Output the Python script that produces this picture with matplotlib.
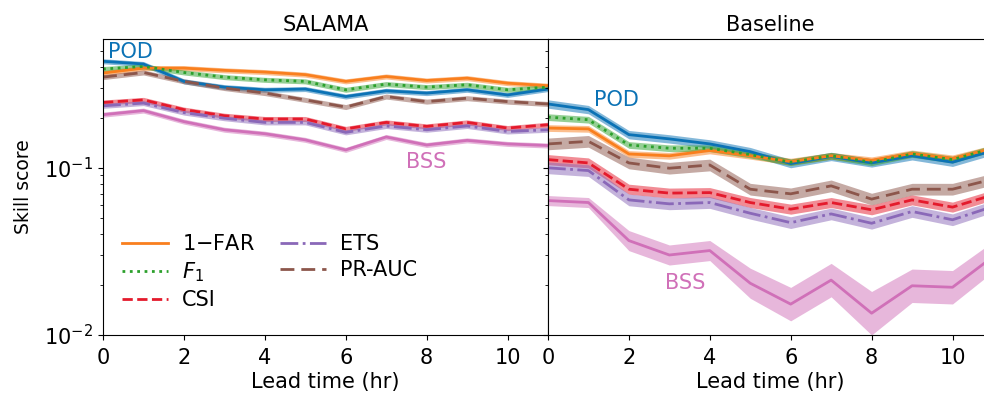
import numpy as np
import matplotlib
matplotlib.use('Agg')
from matplotlib import pyplot as plt

lead = [0, 1, 2, 3, 4, 5, 6, 7, 8, 9, 10, 11]

## SALAMA scores
sal_pod = [0.434, 0.418, 0.329, 0.304, 0.293, 0.296, 0.267, 0.289, 0.280, 0.293, 0.273, 0.296]
sal_far = [0.369, 0.395, 0.395, 0.383, 0.374, 0.361, 0.329, 0.352, 0.333, 0.344, 0.321, 0.310]
sal_f1 = [0.390, 0.404, 0.372, 0.349, 0.336, 0.329, 0.293, 0.317, 0.304, 0.314, 0.293, 0.304]
sal_csi = [0.246, 0.255, 0.223, 0.205, 0.196, 0.196, 0.171, 0.187, 0.177, 0.187, 0.173, 0.181]
sal_ets = [0.235, 0.244, 0.214, 0.198, 0.187, 0.187, 0.163, 0.178, 0.169, 0.178, 0.165, 0.169]
sal_prauc = [0.349, 0.372, 0.329, 0.300, 0.280, 0.255, 0.231, 0.267, 0.249, 0.261, 0.249, 0.241]
sal_bss = [0.208, 0.220, 0.189, 0.169, 0.160, 0.147, 0.128, 0.153, 0.137, 0.146, 0.139, 0.136]

## Baseline scores
base_pod = [0.241, 0.223, 0.158, 0.149, 0.139, 0.125, 0.106, 0.117, 0.107, 0.118, 0.108, 0.127]
base_far = [0.173, 0.171, 0.121, 0.118, 0.127, 0.118, 0.109, 0.118, 0.111, 0.122, 0.114, 0.131]
base_f1 = [0.201, 0.194, 0.137, 0.131, 0.131, 0.120, 0.108, 0.118, 0.108, 0.121, 0.112, 0.131]
base_csi = [0.112, 0.107, 0.0745, 0.0706, 0.0711, 0.062, 0.0566, 0.062, 0.0561, 0.0643, 0.0582, 0.0689]
base_ets = [0.100, 0.0963, 0.0643, 0.0609, 0.062, 0.0535, 0.047, 0.053, 0.0466, 0.0548, 0.0489, 0.0587]
base_prauc = [0.139, 0.144, 0.107, 0.0995, 0.104, 0.0745, 0.0699, 0.078, 0.065, 0.0745, 0.0745, 0.0856]
base_bss = [0.0637, 0.062, 0.0367, 0.0301, 0.032, 0.0204, 0.0153, 0.0213, 0.0135, 0.0197, 0.0193, 0.0294]

## half-width of the shaded bands (log10 units)
sal_spread = [0.015, 0.015, 0.015, 0.015, 0.015, 0.015, 0.015]
base_spread = [0.025, 0.02, 0.02, 0.03, 0.035, 0.035]
base_bss_spread = [0.03, 0.03, 0.06, 0.06, 0.06, 0.09, 0.1, 0.1, 0.13, 0.1, 0.1, 0.09]

names = ['POD', r'1$-$FAR', r'$F_1$', 'CSI', 'ETS', 'PR-AUC', 'BSS']
colors = ['#0b72b5', '#f97f1e', '#2ca02c', '#e41a2c', '#8a68b8', '#8c564b', '#d070b8']
styles = ['-', '-', ':', '--', '-.', (0, (5, 2.5)), '-']

sal = [sal_pod, sal_far, sal_f1, sal_csi, sal_ets, sal_prauc, sal_bss]
base = [base_pod, base_far, base_f1, base_csi, base_ets, base_prauc, base_bss]

plt.rcParams['font.size'] = 15
fig = plt.figure(figsize=(9.84, 3.93), dpi=100)
ax1 = fig.add_axes([0.1047, 0.1476, 0.4522, 0.7532])
ax2 = fig.add_axes([0.5569, 0.1476, 0.4522, 0.7532], sharey=ax1)

x = np.array(lead)

def draw(ax, data, spreads):
    for i, vals in enumerate(data):
        v = np.array(vals)
        s = np.array(spreads[i])
        ax.fill_between(x, v * 10**(-s), v * 10**s, color=colors[i], alpha=0.5, lw=0)
        lbl = names[i] if i not in (0, 6) else None
        ax.plot(x, v, color=colors[i], ls=styles[i], lw=2, label=lbl)

draw(ax1, sal, sal_spread)
draw(ax2, base, base_spread + [base_bss_spread])

ax1.set_yscale('log')
ax1.set_ylim(0.01, 0.59)
for ax in (ax1, ax2):
    ax.set_xlim(0, 11)
    ax.set_xticks([0, 2, 4, 6, 8, 10])
    ax.set_xlabel('Lead time (hr)', labelpad=3)
    ax.tick_params(labelsize=15)
    ax.tick_params(axis='x', pad=6)
plt.setp(ax2.get_yticklabels(), visible=False)
ax1.set_ylabel('Skill score', fontsize=13.5, labelpad=8)
ax1.set_title('SALAMA', fontsize=15, pad=6)
ax2.set_title('Baseline', fontsize=15, pad=6)

ax1.text(0.69, 0.49, 'POD', color=colors[0], ha='center', va='center')
ax1.text(8.0, 0.109, 'BSS', color=colors[6], ha='center', va='center')
ax2.text(1.70, 0.255, 'POD', color=colors[0], ha='center', va='center')
ax2.text(3.40, 0.0205, 'BSS', color=colors[6], ha='center', va='center')

ax1.legend(ncol=2, frameon=False, loc='lower left', bbox_to_anchor=(0.0, 0.02),
           handlelength=2.2, handletextpad=0.7, columnspacing=1.2,
           labelspacing=0.3, fontsize=15)

plt.savefig('out.png', dpi=100)
